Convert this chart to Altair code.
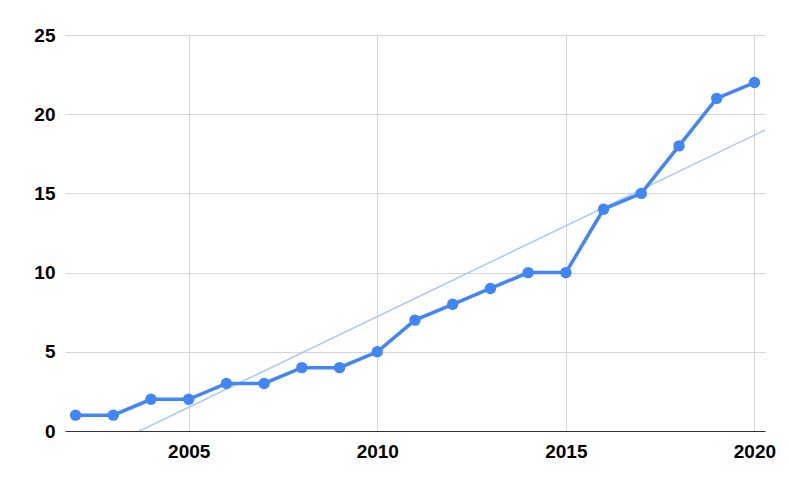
import altair as alt
import pandas as pd

years = list(range(2002, 2021))
values = [1, 1, 2, 2, 3, 3, 4, 4, 5, 7, 8, 9, 10, 10, 14, 15, 18, 21, 22]

df = pd.DataFrame({"year": years, "value": values})

xdom = [2001.72, 2020.28]
x = alt.X("year:Q", scale=alt.Scale(domain=xdom, nice=False, zero=False),
          axis=alt.Axis(values=[2005, 2010, 2015, 2020], format="d", title=None,
                        ticks=False, domain=True, domainColor="#333333", domainWidth=1,
                        grid=True, gridColor="#d6d6d6", labelPadding=11,
                        labelFont="Liberation Sans", labelFontSize=19, labelFontWeight="bold",
                        labelColor="#000000"))
y = alt.Y("value:Q", scale=alt.Scale(domain=[0, 25], nice=False),
          axis=alt.Axis(values=[0, 5, 10, 15, 20, 25], title=None, ticks=False, domain=False,
                        grid=True, gridColor="#d6d6d6", labelPadding=10,
                        labelFont="Liberation Sans", labelFontSize=19, labelFontWeight="bold",
                        labelColor="#000000"))

base = alt.Chart(df)

trend = base.transform_regression("year", "value", extent=xdom).mark_line(
    color="#a9c8f8", strokeWidth=1.5, clip=True
).encode(x=x, y=y)

line = base.mark_line(color="#4285f4", strokeWidth=3.5).encode(x=x, y=y)
pts = base.mark_circle(color="#4285f4", size=130, opacity=1).encode(x=x, y=y)

chart = alt.layer(trend, line, pts).properties(
    width=700, height=396,
    autosize=alt.AutoSizeParams(type="none"),
    padding={"left": 57, "top": 27, "right": 16, "bottom": 40},
).configure_view(stroke=None)

chart.save("out.html", embed_options={"renderer": "svg", "actions": False})
